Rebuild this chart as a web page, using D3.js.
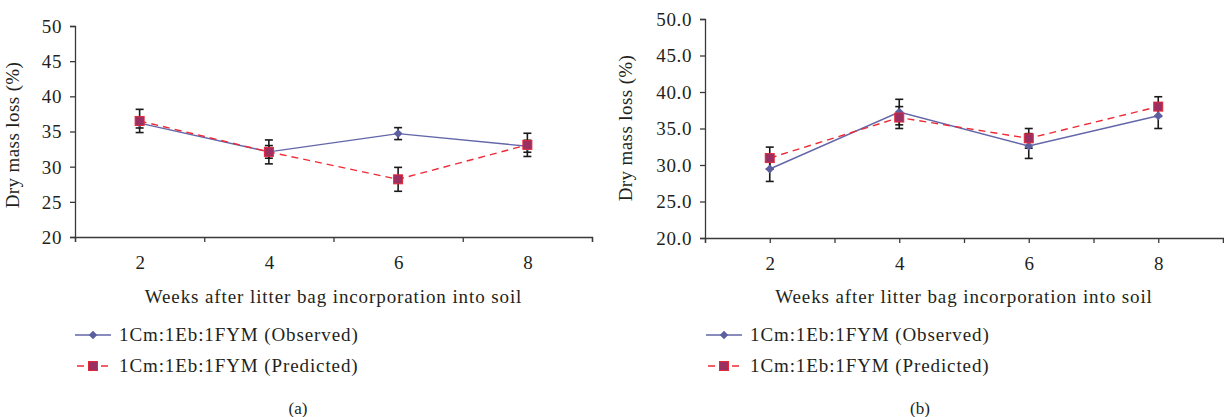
<!DOCTYPE html>
<html>
<head>
<meta charset="utf-8">
<script src="https://cdn.jsdelivr.net/npm/d3@7"></script>
<style>
  body { margin: 0; background: #fff; }
  svg text { font-family: "Liberation Serif", "Times New Roman", serif; fill: #231f20; }
</style>
</head>
<body>
<svg id="chart" width="1224" height="417"></svg>
<script>
// weeks after incorporation
var weeks = [2, 4, 6, 8];

// panel (a) values
var obsA = [36.2, 32.1, 34.7, 32.9];
var obsErrA = [0.7, 0.9, 0.85, 0.85];
var predA = [36.5, 32.1, 28.2, 33.1];
var predErrA = [1.65, 1.7, 1.7, 1.65];
var yTicksA = [20, 25, 30, 35, 40, 45, 50];

// panel (b) values
var obsB = [29.45, 37.25, 32.6, 36.75];
var obsErrB = [1.7, 1.75, 1.7, 1.75];
var predB = [30.95, 36.5, 33.65, 38.0];
var predErrB = [1.5, 1.5, 1.35, 1.35];
var yTicksB = [20, 25, 30, 35, 40, 45, 50];

var seriesNames = ["1Cm:1Eb:1FYM (Observed)", "1Cm:1Eb:1FYM (Predicted)"];
var xTitle = "Weeks after litter bag incorporation into soil";
var yTitle = "Dry mass loss (%)";

var svg = d3.select("#chart");

// draws one panel
function drawPanel(cfg) {
  var x = d3.scaleLinear().domain([1, 9]).range([cfg.left, cfg.right]);
  var y = d3.scaleLinear().domain([20, 50]).range([cfg.bottom, cfg.top]);
  var g = svg.append("g");

  // y axis
  var yAxis = g.append("g")
    .attr("transform", "translate(" + cfg.left + ",0)")
    .call(d3.axisLeft(y).tickValues(cfg.yTicks).tickSize(5).tickPadding(8)
      .tickFormat(function(d) { return cfg.decimals ? d3.format(".1f")(d) : d; }));
  yAxis.selectAll("text").style("font-size", "19px").style("letter-spacing", "0.6px").attr("dy", "0.34em");

  // x axis
  var xAxis = g.append("g")
    .attr("transform", "translate(0," + cfg.bottom + ")")
    .call(d3.axisBottom(x).tickValues([1, 2, 3, 4, 5, 6, 7, 8, 9]).tickSize(5).tickPadding(14)
      .tickFormat(function(d) { return d % 2 == 0 ? d : ""; }));
  xAxis.selectAll("text").style("font-size", "19px");
  if (!cfg.midTicks) {
    xAxis.selectAll(".tick").filter(function(d) { return d % 2 == 0; }).select("line").remove();
  }
  g.selectAll(".domain, .tick line").attr("stroke", "#3a3a3a").attr("stroke-width", 1.3);

  // axis titles
  g.append("text")
    .attr("x", (cfg.left + cfg.right) / 2)
    .attr("y", 303)
    .attr("text-anchor", "middle")
    .style("font-size", "19px")
    .style("letter-spacing", "0.9px")
    .text(xTitle);
  g.append("text")
    .attr("transform", "translate(" + cfg.yTitleX + "," + cfg.yTitleY + ") rotate(-90)")
    .attr("text-anchor", "middle")
    .style("font-size", "19px")
    .style("letter-spacing", "0.4px")
    .text(yTitle);

  var line = d3.line()
    .x(function(d) { return x(d[0]); })
    .y(function(d) { return y(d[1]); });

  var obsPts = weeks.map(function(w, i) { return [w, cfg.obs[i], cfg.obsErr[i]]; });
  var predPts = weeks.map(function(w, i) { return [w, cfg.pred[i], cfg.predErr[i]]; });

  // error bars for both series
  [obsPts, predPts].forEach(function(pts) {
    var eb = g.append("g").attr("stroke", "#1a1a1a").attr("stroke-width", 1.6);
    pts.forEach(function(p) {
      var cx = x(p[0]);
      eb.append("line").attr("x1", cx).attr("x2", cx).attr("y1", y(p[1] - p[2])).attr("y2", y(p[1] + p[2]));
      eb.append("line").attr("x1", cx - 4).attr("x2", cx + 4).attr("y1", y(p[1] - p[2])).attr("y2", y(p[1] - p[2]));
      eb.append("line").attr("x1", cx - 4).attr("x2", cx + 4).attr("y1", y(p[1] + p[2])).attr("y2", y(p[1] + p[2]));
    });
  });

  // observed line + diamonds
  g.append("path").datum(obsPts).attr("d", line)
    .attr("fill", "none").attr("stroke", "#6366a8").attr("stroke-width", 1.4);
  g.selectAll(".dia").data(obsPts).enter().append("path")
    .attr("d", d3.symbol().type(d3.symbolDiamond2).size(50))
    .attr("transform", function(d) { return "translate(" + x(d[0]) + "," + y(d[1]) + ")"; })
    .attr("fill", "#5b5e9f");

  // predicted dashed line + squares
  g.append("path").datum(predPts).attr("d", line)
    .attr("fill", "none").attr("stroke", "#ee2a35").attr("stroke-width", 1.4)
    .attr("stroke-dasharray", "7,5");
  g.selectAll(".sq").data(predPts).enter().append("rect")
    .attr("x", function(d) { return x(d[0]) - 4.5; })
    .attr("y", function(d) { return y(d[1]) - 4.5; })
    .attr("width", 9).attr("height", 9)
    .attr("fill", "#9b2f62").attr("stroke", "#e42838").attr("stroke-width", 1);

  // legend
  var lg = g.append("g");
  var lx = cfg.legendX;
  lg.append("line").attr("x1", lx).attr("x2", lx + 36).attr("y1", 335).attr("y2", 335)
    .attr("stroke", "#6366a8").attr("stroke-width", 1.4);
  lg.append("path").attr("d", d3.symbol().type(d3.symbolDiamond2).size(45)())
    .attr("transform", "translate(" + (lx + 18) + ",335)").attr("fill", "#5b5e9f");
  lg.append("line").attr("x1", lx).attr("x2", lx + 36).attr("y1", 366).attr("y2", 366)
    .attr("stroke", "#ee2a35").attr("stroke-width", 1.4).attr("stroke-dasharray", "7,5")
    .attr("stroke-dashoffset", -2);
  lg.append("rect").attr("x", lx + 13.5).attr("y", 361.5).attr("width", 9).attr("height", 9)
    .attr("fill", "#9b2f62").attr("stroke", "#e42838");
  lg.selectAll("text").data(seriesNames).enter().append("text")
    .attr("x", lx + 44)
    .attr("y", function(d, i) { return i == 0 ? 335 : 366; })
    .attr("dy", "0.34em")
    .style("font-size", "19px")
    .style("letter-spacing", "0.9px")
    .text(function(d) { return d; });

  g.append("text")
    .attr("x", cfg.tagX).attr("y", 414)
    .attr("text-anchor", "middle")
    .style("font-size", "17px")
    .text(cfg.tag);
}

drawPanel({
  left: 75, right: 592, top: 26, bottom: 237,
  obs: obsA, obsErr: obsErrA, pred: predA, predErr: predErrA,
  yTicks: yTicksA, decimals: false, midTicks: false,
  yTitleX: 19, yTitleY: 135, legendX: 75, tagX: 298, tag: "(a)"
});

drawPanel({
  left: 705, right: 1223, top: 19, bottom: 238,
  obs: obsB, obsErr: obsErrB, pred: predB, predErr: predErrB,
  yTicks: yTicksB, decimals: true, midTicks: true,
  yTitleX: 632, yTitleY: 128, legendX: 706, tagX: 920, tag: "(b)"
});
</script>
</body>
</html>
